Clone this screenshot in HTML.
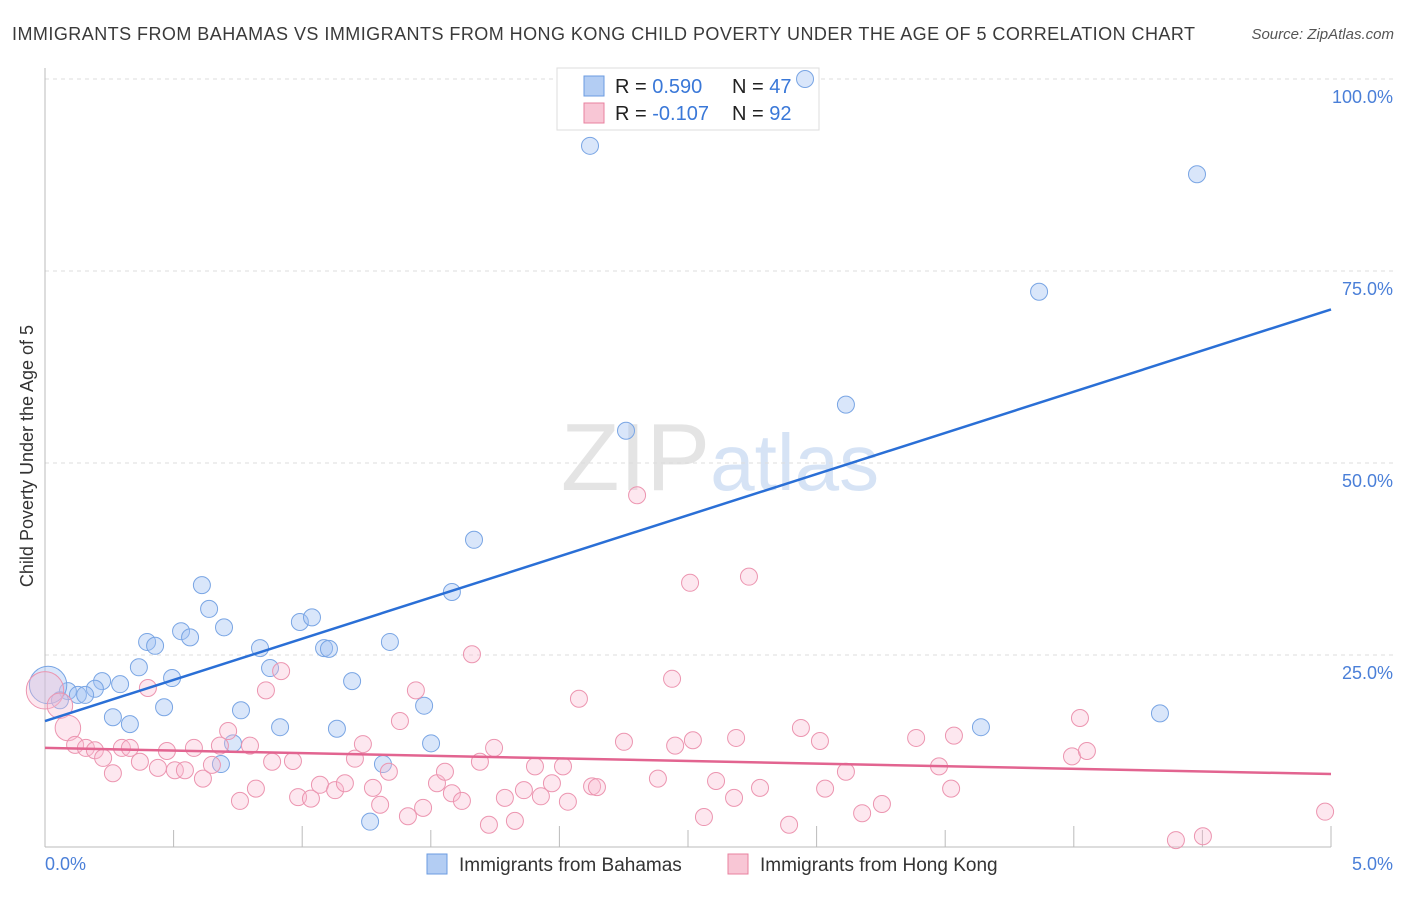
<!DOCTYPE html>
<html><head><meta charset="utf-8"><style>
body{margin:0;background:#fff;font-family:"Liberation Sans",sans-serif;}
svg text{font-family:"Liberation Sans",sans-serif;}
</style></head><body>
<svg id="chart" width="1406" height="892" viewBox="0 0 1406 892" xmlns="http://www.w3.org/2000/svg">
<text x="12" y="40" font-size="18" fill="#3a3a3a" textLength="1183" lengthAdjust="spacing">IMMIGRANTS FROM BAHAMAS VS IMMIGRANTS FROM HONG KONG CHILD POVERTY UNDER THE AGE OF 5 CORRELATION CHART</text>
<text x="1394" y="39" font-size="15" fill="#555" font-style="italic" text-anchor="end">Source: ZipAtlas.com</text>
<text x="720" y="490" font-size="96" text-anchor="middle" fill="#e4e4e4" font-family="Liberation Serif"><tspan>ZIP</tspan><tspan fill="#d6e3f5" font-family="Liberation Sans" font-size="80">atlas</tspan></text>
<g id="grid"></g>
<g id="axes"></g>
<g>
<rect x="557" y="68" width="262" height="62" fill="#fff" stroke="#ddd"/>
<rect x="584" y="76" width="20" height="20" fill="#b3cdf3" stroke="#6b9be0"/>
<rect x="584" y="103" width="20" height="20" fill="#f8c6d5" stroke="#e8819f"/>
<text x="615" y="93" font-size="20" fill="#222">R = <tspan fill="#3a78d8"> 0.590</tspan><tspan x="732">N = </tspan><tspan fill="#3a78d8">47</tspan></text>
<text x="615" y="120" font-size="20" fill="#222">R = <tspan fill="#3a78d8">-0.107</tspan><tspan x="732">N = </tspan><tspan fill="#3a78d8">92</tspan></text>
</g>
<g id="pts"></g>
<g id="lines"></g>
<text transform="translate(33,456) rotate(-90)" font-size="18" fill="#333" text-anchor="middle">Child Poverty Under the Age of 5</text>
<text x="45" y="870" font-size="18" fill="#4a7fd8">0.0%</text>
<text x="1393" y="870" font-size="18" fill="#4a7fd8" text-anchor="end">5.0%</text>
<g>
<rect x="427" y="854" width="20" height="20" fill="#b3cdf3" stroke="#6b9be0"/>
<text x="459" y="871" font-size="19" fill="#333">Immigrants from Bahamas</text>
<rect x="728" y="854" width="20" height="20" fill="#f8c6d5" stroke="#e8819f"/>
<text x="760" y="871" font-size="19" fill="#333">Immigrants from Hong Kong</text>
</g>
</svg>
<script>
const yTicks=[25,50,75,100];
const yTickLabels=["25.0%","50.0%","75.0%","100.0%"];
const xTicks=[0.5,1,1.5,2,2.5,3,3.5,4,4.5,5];
const bahamasX=[2.955,2.119,4.479,3.865,3.114,2.259,1.668,1.582,0.610,0.638,0.529,0.564,0.696,0.397,0.428,0.991,1.038,0.836,1.085,1.104,1.341,0.365,0.875,0.494,1.194,0.222,0.292,0.194,0.089,0.128,0.156,0.058,0.012,0.463,0.762,0.264,0.330,0.914,1.474,1.135,3.639,4.335,0.731,0.684,1.314,1.501,1.264];
const bahamasY=[100.0,91.3,87.6,72.3,57.6,54.2,40.0,33.2,34.1,31.0,28.1,27.3,28.6,26.7,26.2,29.3,29.9,25.9,25.9,25.8,26.7,23.4,23.3,22.0,21.6,21.6,21.2,20.6,20.3,19.8,19.8,19.1,21.1,18.2,17.8,16.9,16.0,15.6,18.4,15.4,15.6,17.4,13.5,10.8,10.8,13.5,3.3];
const bahamasSize=[1,1,1,1,1,1,1,1,1,1,1,1,1,1,1,1,1,1,1,1,1,1,1,1,1,1,1,1,1,1,1,1,2.2,1,1,1,1,1,1,1,1,1,1,1,1,1,1];
const hkX=[0.00,0.058,0.089,0.117,0.159,0.194,0.226,0.264,0.299,0.330,0.369,0.400,0.439,0.474,0.505,0.544,0.579,0.614,0.649,0.712,0.680,0.758,0.797,0.820,0.859,0.883,0.918,0.964,0.984,1.034,1.069,1.128,1.166,1.205,1.236,1.275,1.303,1.337,1.380,1.411,1.442,1.470,1.524,1.555,1.582,1.621,1.660,1.691,1.726,1.746,1.788,1.827,1.862,1.905,1.928,1.971,2.014,2.033,2.076,2.127,2.146,2.251,2.302,2.383,2.438,2.450,2.508,2.519,2.562,2.609,2.679,2.687,2.737,2.780,2.893,2.939,3.013,3.033,3.114,3.177,3.254,3.387,3.476,3.523,3.534,3.993,4.024,4.051,4.397,4.502,4.977];
const hkY=[20.4,18.4,15.5,13.3,12.9,12.6,11.6,9.6,12.9,12.9,11.1,20.7,10.3,12.5,10.0,10.0,12.9,8.9,10.7,15.1,13.2,6.0,13.2,7.6,20.4,11.1,22.9,11.2,6.5,6.3,8.1,7.4,8.3,11.5,13.4,7.7,5.5,9.8,16.4,4.0,20.4,5.1,8.3,9.8,7.0,6.0,25.1,11.1,2.9,12.9,6.4,3.4,7.4,10.5,6.6,8.3,10.5,5.9,19.3,7.9,7.8,13.7,45.8,8.9,21.9,13.2,34.4,13.9,3.9,8.6,6.4,14.2,35.2,7.7,2.9,15.5,13.8,7.6,9.8,4.4,5.6,14.2,10.5,7.6,14.5,11.8,16.8,12.5,0.9,1.4,4.6];
const hkSize=hkX.map((v,i)=>i===0?2.2:(i<3?1.5:1));
const bahamasTrend=[16.4,70.0];
const hkTrend=[12.9,9.5];
const NS="http://www.w3.org/2000/svg";
const X0=45,X1=1331,Y0=847,Y100=79;
const sx=v=>X0+(v/5)*(X1-X0);
const sy=v=>Y0-(v/100)*(Y0-Y100);
function mk(tag,attrs,parent){const e=document.createElementNS(NS,tag);for(const k in attrs)e.setAttribute(k,attrs[k]);parent.appendChild(e);return e;}
const grid=document.getElementById('grid');
yTicks.forEach((t,i)=>{
  const l=mk('line',{x1:45,x2:1394,y1:sy(t),y2:sy(t),stroke:'#ddd','stroke-dasharray':'4,4'},grid);
  
  
  const tx=mk('text',{x:1393,y:sy(t)+24,'font-size':18,fill:'#4a7fd8','text-anchor':'end'},grid);
  tx.textContent=yTickLabels[i];
  
  
});
const axes=document.getElementById('axes');
mk('line',{x1:45,x2:45,y1:68,y2:847,stroke:'#bbb'},axes);
mk('line',{x1:45,x2:1331,y1:847,y2:847,stroke:'#bbb'},axes);
xTicks.forEach((t,i)=>{
  const l=mk('line',{x1:sx(t),x2:sx(t),y1:(i%2?826:830),y2:847,stroke:'#bbb'},axes);
  
  
});
const pts=document.getElementById('pts');
function drawSeries(xs,ys,sz,fill,stroke,name){
  xs.forEach((x,i)=>{
    const c=mk('circle',{cx:sx(x),cy:sy(ys[i]),r:8.5*sz[i],fill:fill,stroke:stroke,'stroke-width':1},pts);
    
    
  });
}
drawSeries(bahamasX,bahamasY,bahamasSize,'rgba(160,192,242,0.4)','#79a5e4','point-bahamas');
drawSeries(hkX,hkY,hkSize,'rgba(248,186,208,0.35)','#ec95b0','point-hongkong');
const lines=document.getElementById('lines');
const bl=mk('line',{x1:sx(0),y1:sy(bahamasTrend[0]),x2:sx(5),y2:sy(bahamasTrend[1]),stroke:'#2a6fd6','stroke-width':2.5},lines);


const pl=mk('line',{x1:sx(0),y1:sy(hkTrend[0]),x2:sx(5),y2:sy(hkTrend[1]),stroke:'#e26490','stroke-width':2.5},lines);


</script>
</body></html>
